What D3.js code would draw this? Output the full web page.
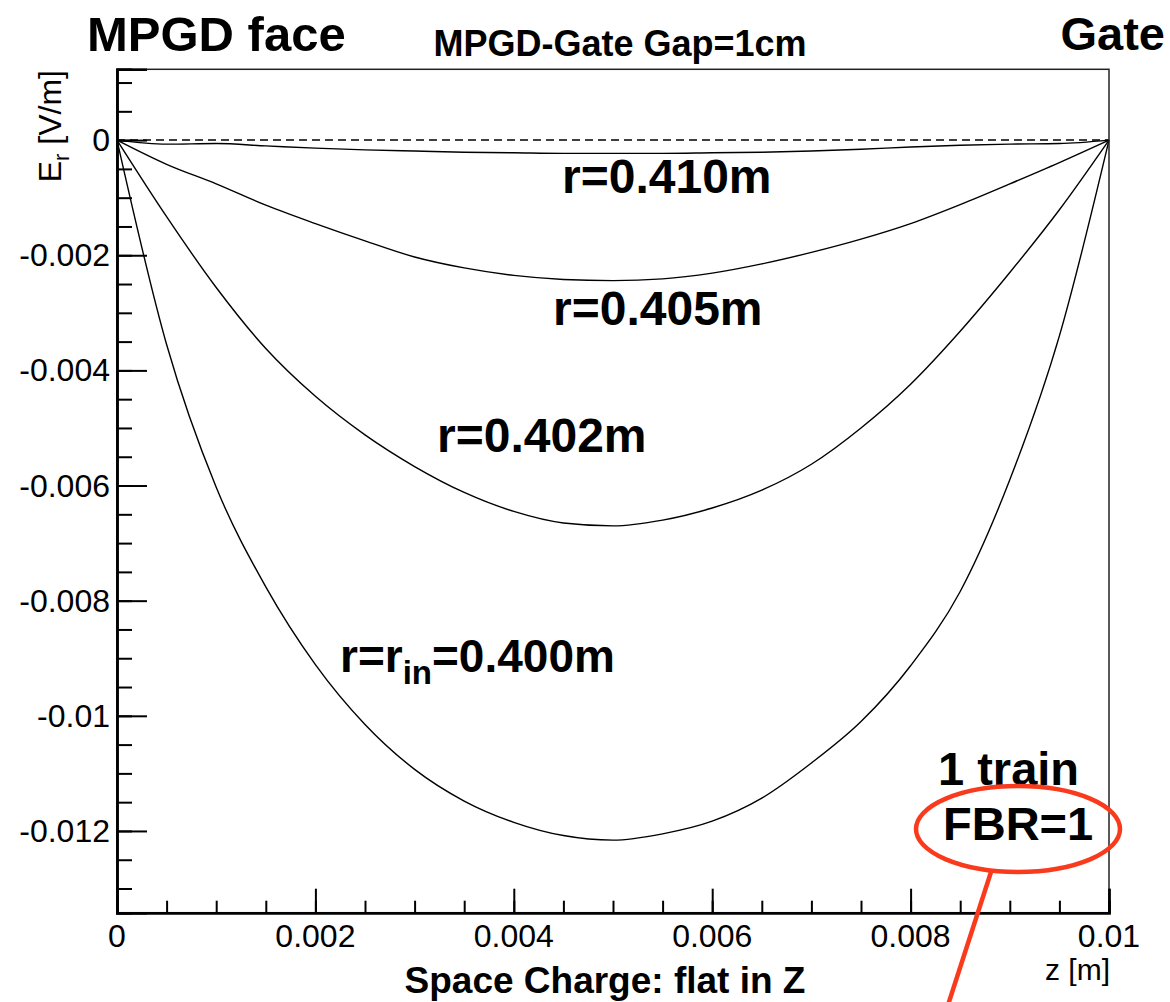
<!DOCTYPE html>
<html>
<head>
<meta charset="utf-8">
<script src="https://cdn.jsdelivr.net/npm/d3@7"></script>
<style>
  body { margin: 0; background: #fff; }
  svg text { font-family: "Liberation Sans", Arial, Helvetica, sans-serif; fill: #000; }
</style>
</head>
<body>
<div id="graph"></div>
<script>
// z positions along the gap [m]
var zValues = [0, 0.0005, 0.001, 0.0015, 0.002, 0.0025, 0.003, 0.0035, 0.004, 0.0045, 0.005,
               0.0055, 0.006, 0.0065, 0.007, 0.0075, 0.008, 0.0085, 0.009, 0.0095, 0.01];

// E_r [V/m] for each radius
var erR400 = [0, -0.00355, -0.00603, -0.00776, -0.00911, -0.01015, -0.01093, -0.01148, -0.01185, -0.01208, -0.01216,
              -0.01205, -0.01183, -0.01143, -0.01082, -0.01010, -0.00913, -0.00784, -0.00590, -0.00340, 0];
var erR402 = [0, -0.00133, -0.00256, -0.00362, -0.00445, -0.00512, -0.00567, -0.00612, -0.00645, -0.00665, -0.00670,
              -0.00660, -0.00639, -0.00608, -0.00563, -0.00500, -0.00424, -0.00332, -0.00230, -0.00121, 0];
var erR405 = [0, -0.00042, -0.00076, -0.00113, -0.00145, -0.00175, -0.00203, -0.00222, -0.00235, -0.00242, -0.00244,
              -0.00241, -0.00231, -0.00215, -0.00195, -0.00172, -0.00145, -0.00112, -0.00076, -0.00039, 0];
var erR410 = [0, -0.00007, -0.00006, -0.00010, -0.00014, -0.00017, -0.00019, -0.00021, -0.00022, -0.00023, -0.00023,
              -0.00023, -0.00022, -0.00021, -0.00019, -0.00016, -0.00012, -0.00009, -0.00007, -0.00006, 0];

var xTickLabels = ["0", "0.002", "0.004", "0.006", "0.008", "0.01"];
var yTickLabels = ["0", "-0.002", "-0.004", "-0.006", "-0.008", "-0.01", "-0.012"];

var series = [erR400, erR402, erR405, erR410];

var width = 1170, height = 1002;

var svg = d3.select("#graph").append("svg")
    .attr("width", width)
    .attr("height", height);

// scales (frame goes from x=117..1109, y=69..913)
var x = d3.scaleLinear().domain([0, 0.01]).range([117, 1109]);
var y = d3.scaleLinear().domain([-0.01342, 0.00123]).range([912.7, 69.3]);

// zero reference line (dashed)
svg.append("line")
    .attr("x1", x(0)).attr("x2", x(0.01))
    .attr("y1", y(0)).attr("y2", y(0))
    .attr("stroke", "#000")
    .attr("stroke-width", 1.5)
    .attr("stroke-dasharray", "8,5");

// curves
var line = d3.line()
    .x(function(d, i) { return x(zValues[i]); })
    .y(function(d) { return y(d); })
    .curve(d3.curveMonotoneX);

svg.selectAll("path.curve")
    .data(series)
  .enter().append("path")
    .attr("class", "curve")
    .attr("d", line)
    .attr("fill", "none")
    .attr("stroke", "#000")
    .attr("stroke-width", 1.4);

// frame
svg.append("rect")
    .attr("x", x(0)).attr("y", y.range()[1])
    .attr("width", x(0.01) - x(0))
    .attr("height", y.range()[0] - y.range()[1])
    .attr("fill", "none")
    .attr("stroke", "#222")
    .attr("stroke-width", 1.5);

// x axis: major ticks every 0.002, minor every 0.0005 (ticks point up)
var xAxis = d3.axisTop(x)
    .tickValues(xTickLabels.map(Number))
    .tickSize(24)
    .tickFormat("");
var xMinor = d3.axisTop(x)
    .tickValues(d3.range(0, 0.01001, 0.0005))
    .tickSize(12)
    .tickFormat("");

[xMinor, xAxis].forEach(function(ax) {
    var g = svg.append("g")
        .attr("transform", "translate(0," + y.range()[0] + ")")
        .call(ax);
    g.select(".domain").attr("stroke-width", 2.5);
    g.selectAll(".tick line").attr("stroke-width", 2);
});

svg.selectAll("text.xlab")
    .data(xTickLabels)
  .enter().append("text")
    .attr("class", "xlab")
    .attr("x", function(d) { return x(+d); })
    .attr("y", 947)
    .attr("text-anchor", "middle")
    .style("font-size", "32px")
    .text(function(d) { return d; });

// y axis: major ticks every 0.002, minor every 0.0005 (ticks point right)
var yAxis = d3.axisRight(y)
    .tickValues(yTickLabels.map(Number))
    .tickSize(30)
    .tickFormat("");
var yMinor = d3.axisRight(y)
    .tickValues(d3.range(-0.013, 0.00101, 0.0005))
    .tickSize(15)
    .tickFormat("");

[yMinor, yAxis].forEach(function(ax) {
    var g = svg.append("g")
        .attr("transform", "translate(" + x(0) + ",0)")
        .call(ax);
    g.select(".domain").attr("stroke-width", 2.5);
    g.selectAll(".tick line").attr("stroke-width", 2);
});

svg.selectAll("text.ylab")
    .data(yTickLabels)
  .enter().append("text")
    .attr("class", "ylab")
    .attr("x", 110)
    .attr("y", function(d) { return y(+d) + 11; })
    .attr("text-anchor", "end")
    .style("font-size", "32px")
    .text(function(d) { return d; });

// axis titles
var yTitle = svg.append("text")
    .attr("transform", "translate(61,70) rotate(-90)")
    .attr("text-anchor", "end")
    .style("font-size", "32px");
yTitle.append("tspan").text("E");
yTitle.append("tspan").attr("dy", 8).style("font-size", "22px").text("r");
yTitle.append("tspan").attr("dy", -8).text(" [V/m]");

svg.append("text")
    .attr("x", 1110).attr("y", 980)
    .attr("text-anchor", "end")
    .style("font-size", "30px")
    .text("z [m]");

svg.append("text")
    .attr("x", 605).attr("y", 993)
    .attr("text-anchor", "middle")
    .style("font-size", "37px")
    .style("font-weight", "bold")
    .text("Space Charge: flat in Z");

// titles on top
svg.append("text")
    .attr("x", 620).attr("y", 56)
    .attr("text-anchor", "middle")
    .style("font-size", "36px")
    .style("font-weight", "bold")
    .text("MPGD-Gate Gap=1cm");

svg.append("text")
    .attr("x", 87).attr("y", 51)
    .style("font-size", "49px")
    .style("font-weight", "bold")
    .text("MPGD face");

svg.append("text")
    .attr("x", 1165).attr("y", 50)
    .attr("text-anchor", "end")
    .style("font-size", "47px")
    .style("font-weight", "bold")
    .text("Gate");

// curve labels
function bold(xp, yp, size, txt) {
    return svg.append("text")
        .attr("x", xp).attr("y", yp)
        .style("font-size", size + "px")
        .style("font-weight", "bold")
        .text(txt);
}
bold(562, 193, 48, "r=0.410m");
bold(553, 325, 48, "r=0.405m");
bold(437, 452, 48, "r=0.402m");

var rin = svg.append("text")
    .attr("x", 340).attr("y", 672)
    .style("font-size", "46px")
    .style("font-weight", "bold");
rin.append("tspan").text("r=r");
rin.append("tspan").attr("dy", 12).style("font-size", "33px").text("in");
rin.append("tspan").attr("dy", -12).text("=0.400m");

bold(938, 785, 47, "1 train");
bold(943, 840, 47, "FBR=1");

// red highlight
svg.append("ellipse")
    .attr("cx", 1018).attr("cy", 829)
    .attr("rx", 102).attr("ry", 43)
    .attr("fill", "none")
    .attr("stroke", "#fa3a1c")
    .attr("stroke-width", 4.5);

svg.append("line")
    .attr("x1", 991).attr("y1", 872)
    .attr("x2", 948).attr("y2", 1005)
    .attr("stroke", "#fa3a1c")
    .attr("stroke-width", 4.5);
</script>
</body>
</html>
